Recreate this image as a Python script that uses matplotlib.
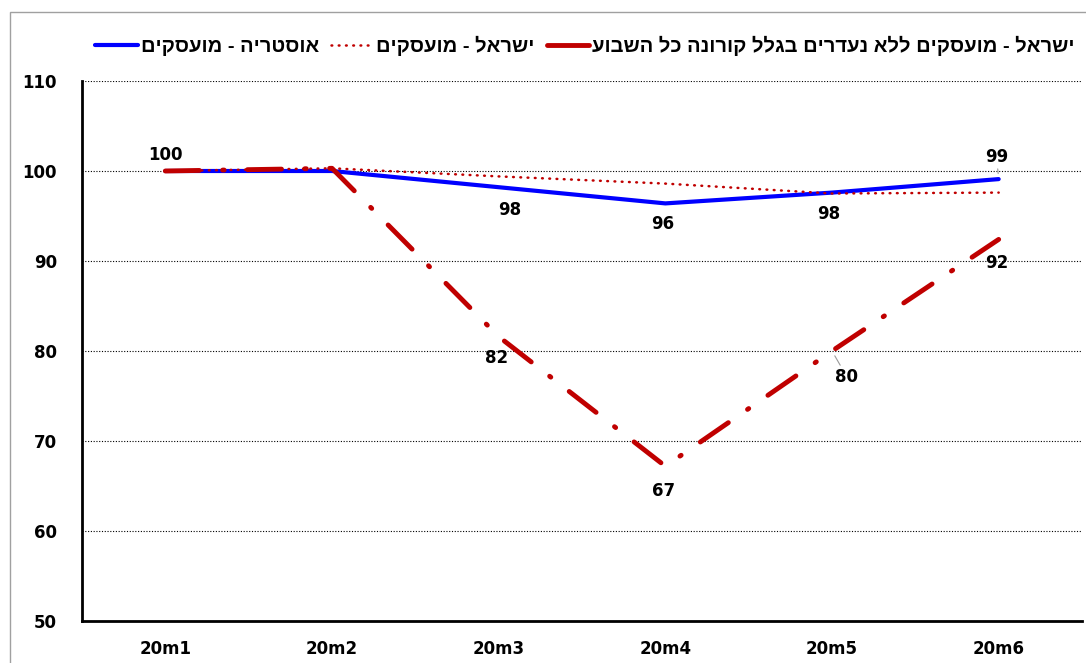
import numpy as np
import matplotlib
matplotlib.use("Agg")
import matplotlib.pyplot as plt
from matplotlib.patches import Rectangle
from matplotlib.lines import Line2D

# data
months = ["20m1", "20m2", "20m3", "20m4", "20m5", "20m6"]
austria = [100.0, 100.0, 98.2, 96.4, 97.6, 99.1]
israel_emp = [100.0, 100.3, 99.4, 98.6, 97.5, 97.6]
israel_no_absent = [100.0, 100.3, 81.6, 67.2, 80.0, 92.4]

lbl_austria = "אוסטריה - מועסקים"
lbl_israel = "ישראל - מועסקים"
lbl_absent = "ישראל - מועסקים ללא נעדרים בגלל קורונה כל השבוע"


def rtl(s):
    # matplotlib has no bidi support: reverse Hebrew for visual order
    return s[::-1]


W, H = 1086, 663
fig = plt.figure(figsize=(W / 100, H / 100), dpi=100)
ax = fig.add_axes([82 / W, 42 / H, (1082 - 82) / W, 540 / H])

x = np.arange(len(months))

ax.plot(x, austria, color="#0000FF", lw=3.0, solid_capstyle="round", zorder=3)
ax.plot(x, israel_emp, color="#C00000", lw=1.8, dashes=(0.3, 2.6),
        dash_capstyle="round", zorder=4)
ax.plot(x, israel_no_absent, color="#C00000", lw=3.5, dashes=(7.0, 4.8, 0.3, 4.8),
        dash_capstyle="round", zorder=5)

txt = dict(fontsize=12, fontweight="bold", ha="center", va="center",
           textcoords="offset points", color="black", zorder=6)
gray = dict(arrowstyle="-", color="#999999", lw=0.8, shrinkA=0, shrinkB=4)

# (series, index, dx px, dy px, leader)
labels = [
    (austria, 0, 0, 16, False),
    (austria, 2, 11, -23, False),
    (austria, 3, -3, -21, False),
    (austria, 4, -3, -21, False),
    (austria, 5, -2, 22, True),
    (israel_no_absent, 2, -2, -21, False),
    (israel_no_absent, 3, -2, -25, False),
    (israel_no_absent, 4, 15, -26, True),
    (israel_no_absent, 5, -2, -24, False),
]
for ser, i, dx, dy, lead in labels:
    kw = dict(txt)
    if lead:
        kw["arrowprops"] = gray
    ax.annotate(f"{ser[i]:.0f}", xy=(x[i], ser[i]),
                xytext=(dx * 0.72, dy * 0.72), **kw)

ax.set_xlim(-0.5, 5.5)
ax.set_ylim(50, 110)
ax.set_yticks(np.arange(50, 111, 10))
ax.set_xticks(x)
ax.set_xticklabels(months)
ax.tick_params(axis="both", length=0, labelsize=12)
ax.tick_params(axis="y", pad=18)
ax.tick_params(axis="x", pad=14)
for lab in ax.get_xticklabels() + ax.get_yticklabels():
    lab.set_fontweight("bold")

ax.grid(True, axis="y", color="black", linestyle=(0, (1, 1.5)), lw=0.8)
ax.set_axisbelow(True)
for s in ["top", "right"]:
    ax.spines[s].set_visible(False)
for s in ["left", "bottom"]:
    ax.spines[s].set_linewidth(2.0)
    ax.spines[s].set_color("black")

fig.patches.append(Rectangle((10 / W, -0.1), 1.2, 1.1 - 12 / H,
                             transform=fig.transFigure, fill=False,
                             edgecolor="#a0a0a0", lw=1.0))

handles = [
    Line2D([], [], color="#0000FF", lw=3.0, solid_capstyle="round"),
    Line2D([], [], color="#C00000", lw=1.8, dashes=(0.3, 2.6), dash_capstyle="round"),
    Line2D([], [], color="#C00000", lw=3.5, solid_capstyle="round"),
]
fig.legend(handles, [rtl(lbl_austria), rtl(lbl_israel), rtl(lbl_absent)],
           loc="center", bbox_to_anchor=(585 / W, 1 - 46 / H), ncol=3,
           frameon=False, handlelength=2.1, handletextpad=0.15,
           columnspacing=0.6, borderpad=0,
           prop={"family": "Liberation Sans", "weight": "bold", "size": 14.5})

fig.savefig("out.png", dpi=100)
